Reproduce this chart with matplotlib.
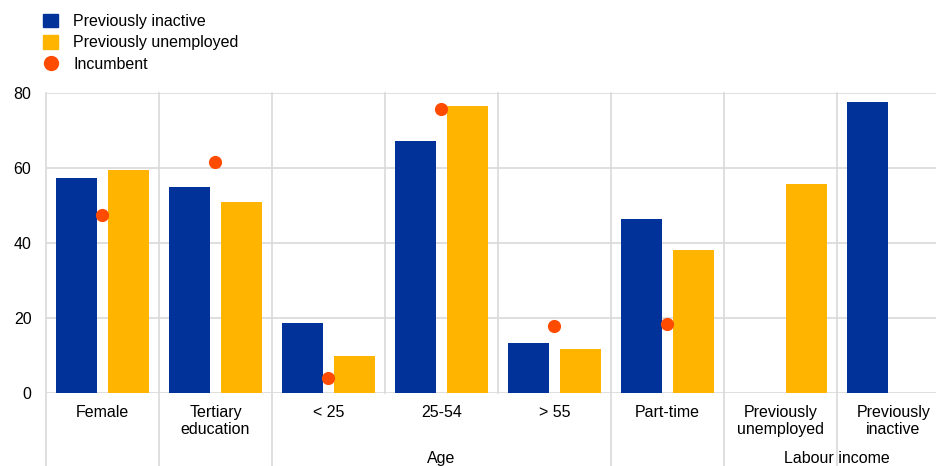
import matplotlib
matplotlib.use("Agg")
import matplotlib.pyplot as plt
import matplotlib.transforms as mtransforms
from matplotlib.patches import Patch
from matplotlib.lines import Line2D
import numpy as np

plt.rcParams['font.family'] = ['Liberation Sans', 'DejaVu Sans']

categories = ["Female", "Tertiary\neducation", "< 25", "25-54", "> 55",
              "Part-time", "Previously\nunemployed", "Previously\ninactive"]
prev_inactive = [57.3, 55.0, 18.8, 67.3, 13.3, 46.5, np.nan, 77.6]
prev_unemployed = [59.6, 50.9, 10.0, 76.7, 11.7, 38.1, 55.8, np.nan]
incumbent = [47.5, 61.6, 4.2, 75.7, 17.9, 18.4, np.nan, np.nan]
group_labels = ["Age", "Labour income"]
group_spans = [(2, 4), (6, 7)]

BLUE, YELLOW, ORANGE, GRID = "#003299", "#FFB400", "#FF4B00", "#d9d9d9"
FS = 11.5

W, H = 937, 466
fig = plt.figure(figsize=(W / 100, H / 100), dpi=100)
ax = fig.add_axes([46 / W, (466 - 393.3) / H, (950 - 46) / W, 300 / H])

x = np.arange(len(categories))
bw, off = 0.363, 0.23
ax.bar(x - off, prev_inactive, bw, color=BLUE, zorder=2)
ax.bar(x + off, prev_unemployed, bw, color=YELLOW, zorder=2)
ax.scatter(x, incumbent, s=90, color=ORANGE, zorder=3, linewidths=0)

ax.set_xlim(-0.5, len(categories) - 0.5)
ax.set_ylim(0, 80)
ax.set_yticks([0, 20, 40, 60, 80])
ax.yaxis.grid(True, color=GRID, linewidth=1.2, zorder=0)
ax.set_axisbelow(True)
for s in ax.spines.values():
    s.set_visible(False)
ax.tick_params(axis='both', length=0, labelsize=FS)
ax.tick_params(axis='y', pad=10.5)
ax.set_xticks(x)
ax.set_xticklabels(categories, linespacing=1.12)
ax.tick_params(axis='x', pad=8.5)

# separators
trans = mtransforms.blended_transform_factory(ax.transData, ax.transAxes)
inner = {2.5, 3.5, 7.5}
for b in np.arange(-0.5, len(categories), 1.0):
    y0 = 0 if b in inner else -0.26
    ax.plot([b, b], [y0, 1], color=GRID, linewidth=1.2, transform=trans,
            clip_on=False, zorder=1)

for lab, (a, b) in zip(group_labels, group_spans):
    ax.text((a + b) / 2, -0.216, lab, transform=trans, ha='center',
            va='center', fontsize=FS)

handles = [Patch(color=BLUE), Patch(color=YELLOW),
           Line2D([], [], marker='o', color=ORANGE, linestyle='none', markersize=10)]
fig.legend(handles, ["Previously inactive", "Previously unemployed", "Incumbent"],
           loc='upper left', bbox_to_anchor=(43 / W, 1 - 13.5 / H), frameon=False,
           fontsize=FS, borderpad=0, borderaxespad=0, handlelength=0.95,
           handleheight=0.95, handletextpad=0.95, labelspacing=0.38)

fig.savefig("out.png", dpi=100)
